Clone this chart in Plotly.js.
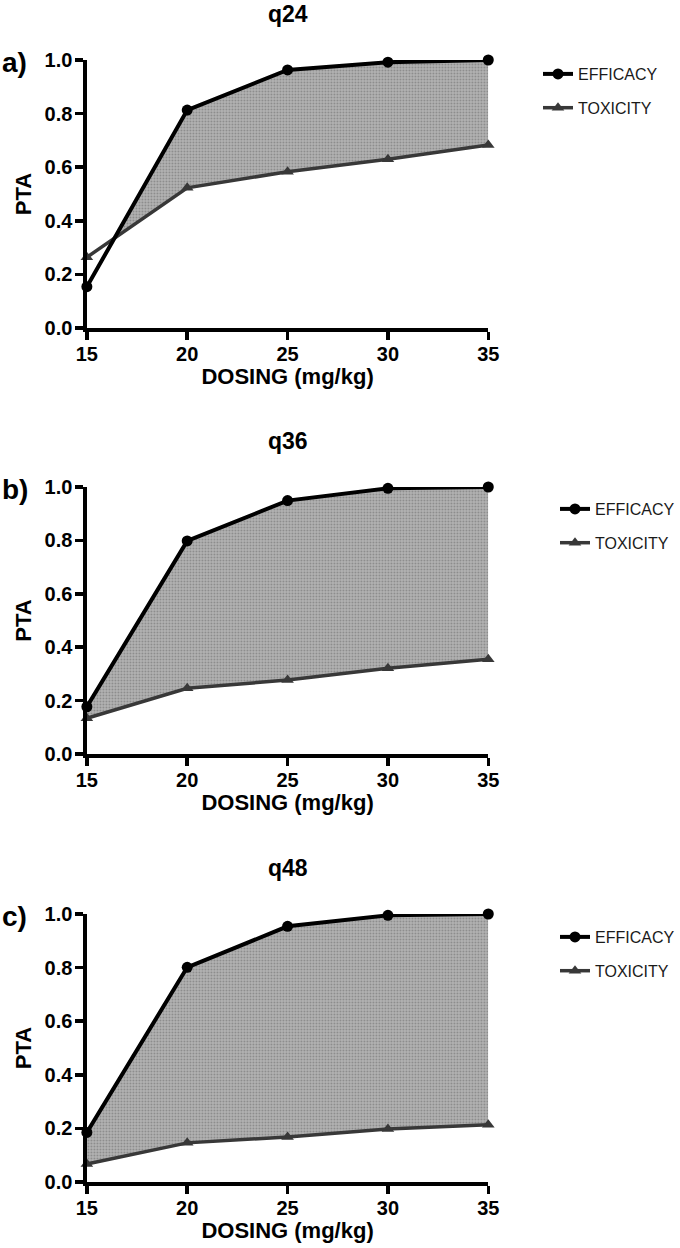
<!DOCTYPE html>
<html><head><meta charset="utf-8">
<script src="https://cdn.plot.ly/plotly-3.0.1.min.js"></script>
<style>html,body{margin:0;padding:0;background:#fff}</style>
</head><body><div id="chart" style="width:680px;height:1248px"></div>
<script>
const dosing = [15, 20, 25, 30, 35];
const panelTitles = ['q24', 'q36', 'q48'];
const panelLabels = ['a)', 'b)', 'c)'];
const efficacyQ24 = [0.154, 0.813, 0.963, 0.992, 1.0];
const toxicityQ24 = [0.264, 0.523, 0.583, 0.630, 0.683];
const efficacyQ36 = [0.177, 0.798, 0.949, 0.995, 1.0];
const toxicityQ36 = [0.134, 0.246, 0.277, 0.321, 0.355];
const efficacyQ48 = [0.185, 0.801, 0.954, 0.995, 1.0];
const toxicityQ48 = [0.067, 0.146, 0.168, 0.198, 0.214];
const yTicks = [0, 0.2, 0.4, 0.6, 0.8, 1.0];
const yTickText = ['0.0', '0.2', '0.4', '0.6', '0.8', '1.0'];
const xTicks = [15, 20, 25, 30, 35];
const seriesNames = ['EFFICACY', 'TOXICITY'];

const FONT = 'Liberation Sans, Arial, Helvetica, sans-serif';
const H = 1248, W = 680;
const efficacy = [efficacyQ24, efficacyQ36, efficacyQ48];
const toxicity = [toxicityQ24, toxicityQ36, toxicityQ48];

// panel pixel geometry (plot area top / bottom)
const panelTop = [60, 487, 914];
const panelBot = [328, 754, 1182];
const xLeft = 87, xRight = 489;
const legendX = [538, 556, 556];
const legendTop = [57, 492, 920];

function band(x, hi, lo) {
  const bx = [], bh = [], bl = [];
  for (let i = 0; i < x.length; i++) {
    bx.push(x[i]); bh.push(hi[i]); bl.push(Math.min(hi[i], lo[i]));
    if (i < x.length - 1) {
      const d0 = hi[i] - lo[i], d1 = hi[i + 1] - lo[i + 1];
      if (d0 * d1 < 0) {
        const t = d0 / (d0 - d1);
        const xc = x[i] + t * (x[i + 1] - x[i]);
        const yc = hi[i] + t * (hi[i + 1] - hi[i]);
        bx.push(xc); bh.push(yc); bl.push(yc);
      }
    }
  }
  return {bx, bh, bl};
}

const traces = [];
const layout = {
  width: W, height: H,
  margin: {l: 0, r: 0, t: 0, b: 0},
  paper_bgcolor: '#fff', plot_bgcolor: '#fff',
  showlegend: true,
  annotations: []
};

for (let p = 0; p < 3; p++) {
  const sfx = p === 0 ? '' : String(p + 1);
  const xref = 'x' + sfx, yref = 'y' + sfx;
  const leg = 'legend' + sfx;
  const b = band(dosing, efficacy[p], toxicity[p]);
  traces.push({x: b.bx, y: b.bl, xaxis: xref, yaxis: yref, mode: 'lines',
    line: {width: 0}, showlegend: false, hoverinfo: 'skip'});
  traces.push({x: b.bx, y: b.bh, xaxis: xref, yaxis: yref, mode: 'lines',
    line: {width: 0}, fill: 'tonexty', fillcolor: '#acacac',
    fillpattern: {shape: '.', fgcolor: '#8a8a8a', bgcolor: '#b3b3b3', size: 3, solidity: 0.3},
    showlegend: false, hoverinfo: 'skip'});
  traces.push({x: dosing, y: toxicity[p], xaxis: xref, yaxis: yref, name: seriesNames[1],
    mode: 'lines+markers', line: {color: '#383838', width: 3.5},
    marker: {symbol: 'triangle-up', size: 11, color: '#383838'},
    cliponaxis: false, legend: leg, legendrank: 2, legendgroup: 'tox' + p});
  traces.push({x: dosing, y: efficacy[p], xaxis: xref, yaxis: yref, name: seriesNames[0],
    mode: 'lines+markers', line: {color: '#000', width: 4},
    marker: {symbol: 'circle', size: 11, color: '#000'},
    cliponaxis: false, legend: leg, legendrank: 1, legendgroup: 'eff' + p});

  layout['xaxis' + sfx] = {
    domain: [xLeft / W, xRight / W], anchor: yref, range: [15, 35],
    tickvals: xTicks, ticks: 'outside', ticklen: 8, tickwidth: 3.5, tickcolor: '#000',
    showline: true, linewidth: 3.5, linecolor: '#000', showgrid: false, zeroline: false,
    tickfont: {family: FONT, size: 20, color: '#000', weight: 'bold'},
    ticklabelstandoff: -3,
    title: {text: 'DOSING (mg/kg)', font: {family: FONT, size: 22, color: '#000', weight: 'bold'}, standoff: 4},
    fixedrange: true, automargin: false
  };
  layout['yaxis' + sfx] = {
    domain: [(H - panelBot[p]) / H, (H - panelTop[p]) / H], anchor: xref, range: [0, 1],
    tickvals: yTicks, ticktext: yTickText, ticks: 'outside', ticklen: 8, tickwidth: 3.5, tickcolor: '#000',
    showline: true, linewidth: 3.5, linecolor: '#000', showgrid: false, zeroline: false,
    tickfont: {family: FONT, size: 20, color: '#000', weight: 'bold'},
    ticklabelstandoff: -1,
    title: {text: 'PTA', font: {family: FONT, size: 22, color: '#000', weight: 'bold'}, standoff: 8},
    fixedrange: true, automargin: false
  };
  layout[leg] = {
    x: legendX[p] / W, xanchor: 'left', y: (H - legendTop[p]) / H, yanchor: 'top',
    font: {family: FONT, size: 16, color: '#1a1a1a'}, bgcolor: 'rgba(0,0,0,0)',
    tracegroupgap: 10, traceorder: 'grouped'
  };
  layout.annotations.push({
    text: panelTitles[p], xref: 'paper', yref: 'paper',
    x: (xLeft + xRight) / 2 / W, y: (H - (panelTop[p] - 46)) / H, xanchor: 'center', yanchor: 'middle',
    showarrow: false, font: {family: FONT, size: 23, color: '#000', weight: 'bold'}
  });
  layout.annotations.push({
    text: panelLabels[p], xref: 'paper', yref: 'paper',
    x: 0, y: (H - (panelTop[p] + 2)) / H, xanchor: 'left', yanchor: 'middle',
    showarrow: false, font: {family: FONT, size: 28, color: '#000', weight: 'bold'}
  });
}

Plotly.newPlot('chart', traces, layout, {displayModeBar: false, staticPlot: true});
</script>
</body></html>
